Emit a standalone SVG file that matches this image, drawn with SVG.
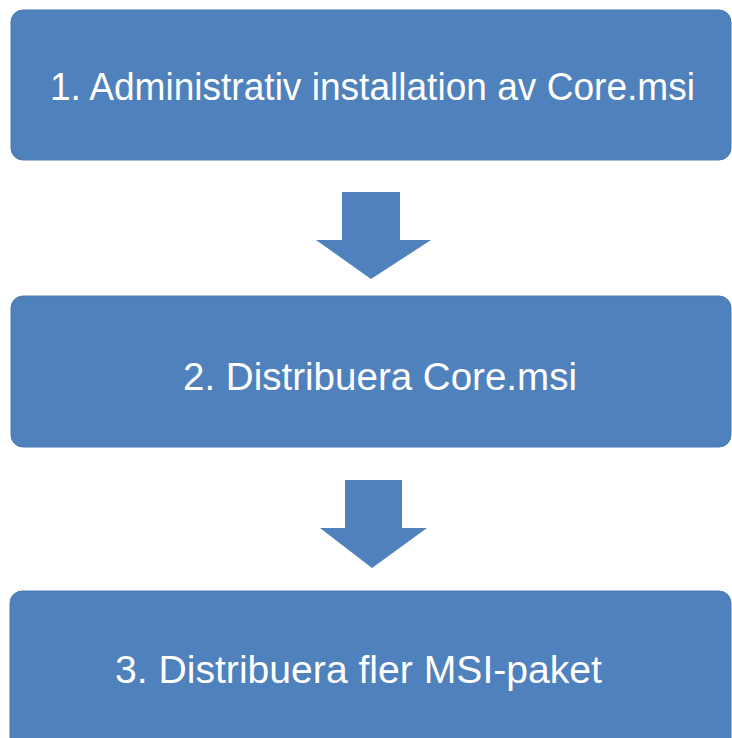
<svg xmlns="http://www.w3.org/2000/svg" width="732" height="738" viewBox="0 0 732 738">
  <style>
    .box { fill: #4F81BD; stroke: #4A7AB3; stroke-width: 1; }
    .arrow { fill: #4F81BD; }
    .label { fill: #FFFFFF; font-family: "Liberation Sans", "DejaVu Sans", sans-serif; font-size: 38px; }
  </style>
  <rect width="732" height="738" fill="#FFFFFF"/>
  <g id="connectors">
    <polygon class="arrow" points="342,192 400,192 400,240 431,240 371,279 316,240 342,240"/>
    <polygon class="arrow" points="345,480 402,480 402,528 427,528 372,568 320,528 345,528"/>
  </g>
  <g id="node1">
    <rect class="box" x="11" y="10" width="720" height="150" rx="12" ry="12"/>
    <text class="label" x="50" y="100" textLength="645" lengthAdjust="spacingAndGlyphs">1. Administrativ installation av Core.msi</text>
  </g>
  <g id="node2">
    <rect class="box" x="11" y="296" width="720" height="151" rx="12" ry="12"/>
    <text class="label" x="183" y="390" textLength="394" lengthAdjust="spacingAndGlyphs">2. Distribuera Core.msi</text>
  </g>
  <g id="node3">
    <rect class="box" x="10" y="591" width="721" height="160" rx="12" ry="12"/>
    <text class="label" x="115" y="683" textLength="487" lengthAdjust="spacingAndGlyphs">3. Distribuera fler MSI-paket</text>
  </g>
</svg>
